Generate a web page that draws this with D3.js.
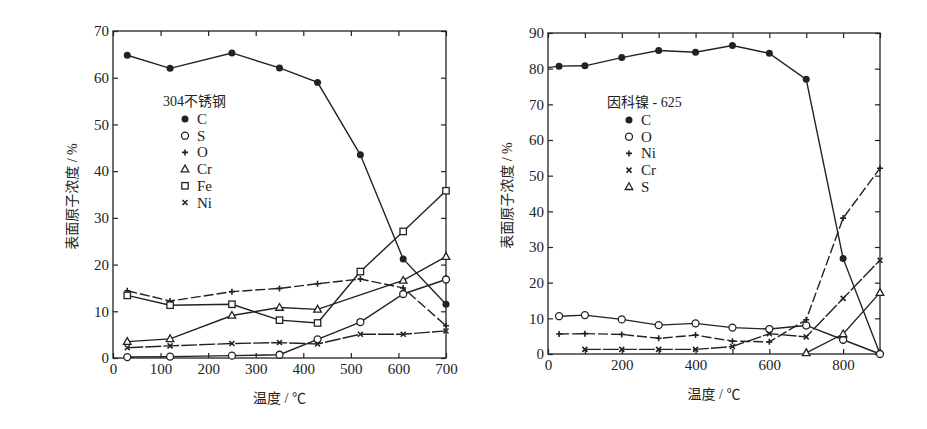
<!DOCTYPE html>
<html><head><meta charset="utf-8">
<script src="https://cdn.jsdelivr.net/npm/d3@7"></script>
<style>
body{margin:0;background:#fff;}
svg{display:block;}
.tk text{font-family:"Liberation Serif","DejaVu Serif",serif;font-size:15px;fill:#222;}
.tk path,.tk line{stroke:#222;stroke-width:1.2;}
.cjk{font-family:"Liberation Serif","Noto Sans CJK SC",sans-serif;fill:#222;}
.ser{font-family:"Liberation Serif",serif;fill:#222;}
</style></head><body>
<svg id="c" width="927" height="429"></svg>
<script>
// ---------- Left chart: 304 stainless steel ----------
const temps304 = [30,120,250,350,430,520,610,700];
const c304  = [64.8,62.0,65.3,62.1,59.0,43.5,21.2,11.5];
const s304  = [0.2,0.3,0.5,0.7,4.0,7.7,13.7,16.8];
const o304  = [14.4,12.2,14.2,14.9,15.9,16.9,15.0,6.9];
const crTemps304 = [30,120,250,350,430,610,700];
const cr304 = [3.5,4.1,9.1,10.8,10.4,16.6,21.7];
const fe304 = [13.4,11.3,11.5,8.1,7.5,18.5,27.1,35.8];
const ni304 = [2.2,2.6,3.1,3.3,3.0,5.1,5.1,5.8];
const xTicks304 = [0,100,200,300,400,500,600,700];
const yTicks304 = [0,10,20,30,40,50,60,70];
const legend304Title = "304不锈钢";
const legend304 = ["C","S","O","Cr","Fe","Ni"];

// ---------- Right chart: Inconel 625 ----------
const cTemps625 = [0,30,100,200,300,400,500,600,700,800,900];
const c625 = [80.3,80.7,80.8,83.1,85.1,84.6,86.5,84.3,77.0,26.8,0];
const temps625 = [30,100,200,300,400,500,600,700,800,900];
const o625  = [10.6,10.9,9.7,8.1,8.6,7.4,7.0,8.0,4.0,0];
const ni625 = [5.6,5.7,5.5,4.4,5.3,3.6,3.4,9.6,38.1,52.1];
const crTemps625 = [100,200,300,400,500,600,700,800,900];
const cr625 = [1.3,1.3,1.3,1.3,2.1,5.7,4.8,15.6,26.3];
const sTemps625 = [700,800,900];
const s625 = [0.3,5.6,17.2];
const xTicks625 = [0,100,200,300,400,500,600,700,800,900];
const xLabels625 = [0,200,400,600,800];
const yTicks625 = [0,10,20,30,40,50,60,70,80,90];
const legend625Title = "因科镍 - 625";
const legend625 = ["C","O","Ni","Cr","S"];

const yTitle = "表面原子浓度 / %";
const xTitle = "温度 / ℃";

const svg = d3.select("#c");
const INK = "#222";

function marker(g, shape, x, y){
  const r = 3.5;
  if(shape==="fcircle") g.append("circle").attr("cx",x).attr("cy",y).attr("r",r).attr("fill",INK);
  else if(shape==="ocircle") g.append("circle").attr("cx",x).attr("cy",y).attr("r",r).attr("fill","#fff").attr("stroke",INK).attr("stroke-width",1.3);
  else if(shape==="square") g.append("rect").attr("x",x-3.2).attr("y",y-3.2).attr("width",6.4).attr("height",6.4).attr("fill","#fff").attr("stroke",INK).attr("stroke-width",1.3);
  else if(shape==="triangle") g.append("path").attr("d",`M${x},${y-4}L${x+3.8},${y+2.7}L${x-3.8},${y+2.7}Z`).attr("fill","#fff").attr("stroke",INK).attr("stroke-width",1.3);
  else if(shape==="plus") g.append("path").attr("d",`M${x-3},${y}H${x+3}M${x},${y-3}V${y+3}`).attr("stroke",INK).attr("stroke-width",1.6);
  else if(shape==="cross") g.append("path").attr("d",`M${x-2.5},${y-2.5}L${x+2.5},${y+2.5}M${x-2.5},${y+2.5}L${x+2.5},${y-2.5}`).attr("stroke",INK).attr("stroke-width",1.5);
}

function chart(o){
  const x = d3.scaleLinear().domain(o.xDomain).range([o.left,o.right]);
  const y = d3.scaleLinear().domain(o.yDomain).range([o.bottom,o.top]);
  const g = svg.append("g");
  g.append("g").attr("class","tk").attr("transform",`translate(0,${o.bottom})`)
    .call(d3.axisBottom(x).tickValues(o.xTicks).tickSize(-5).tickPadding(5)
      .tickFormat(d=> o.xLabels.includes(d)? d : ""));
  g.append("g").attr("class","tk").attr("transform",`translate(0,${o.top})`)
    .call(d3.axisTop(x).tickValues(o.xTicks).tickSize(-5).tickFormat(""));
  g.append("g").attr("class","tk").attr("transform",`translate(${o.left},0)`)
    .call(d3.axisLeft(y).tickValues(o.yTicks).tickSize(-5).tickPadding(4));
  g.append("g").attr("class","tk").attr("transform",`translate(${o.right},0)`)
    .call(d3.axisRight(y).tickValues(o.yTicks).tickSize(-5).tickFormat(""));
  g.selectAll(".tk .domain").remove();
  g.append("rect").attr("x",o.left).attr("y",o.top).attr("width",o.right-o.left).attr("height",o.bottom-o.top)
    .attr("fill","none").attr("stroke",INK).attr("stroke-width",1.3);

  const line = d3.line().x(d=>x(d[0])).y(d=>y(d[1]));
  o.series.forEach(s=>{
    const pts = s.t.map((t,i)=>[t,s.v[i]]);
    g.append("path").attr("d",line(pts)).attr("fill","none").attr("stroke",INK)
      .attr("stroke-width",1.4).attr("stroke-dasharray",s.dash||null);
    const mg = g.append("g");
    pts.filter(p=>p[0]>0).forEach(p=>marker(mg,s.shape,x(p[0]),y(p[1])));
  });

  g.append("text").attr("x",o.legX).attr("y",o.legY).attr("class","cjk").style("font-size","14px")
    .attr("dominant-baseline","central").text(o.legTitle);
  o.legItems.forEach((name,i)=>{
    const s = o.series.find(d=>d.name===name);
    const yy = o.legY + 18 + i*16.7;
    marker(g, s.shape, o.legX+22, yy);
    g.append("text").attr("x",o.legX+34).attr("y",yy).attr("class","ser").style("font-size","15px")
      .attr("dominant-baseline","central").text(name);
  });

  g.append("text").attr("class","cjk").style("font-size","14px").attr("text-anchor","middle")
    .attr("dominant-baseline","central")
    .attr("transform",`translate(${o.left-41},${(o.top+o.bottom)/2 + 2}) rotate(-90)`).text(yTitle);
  g.append("text").attr("class","cjk").style("font-size","14px").attr("text-anchor","middle")
    .attr("dominant-baseline","central")
    .attr("x",(o.left+o.right)/2).attr("y",o.bottom+40).text(xTitle);
}

chart({
  left:113,right:446,top:31,bottom:358,
  xDomain:[0,700], yDomain:[0,70], xTicks:xTicks304, xLabels:xTicks304, yTicks:yTicks304,
  legX:163, legY:101, legTitle:legend304Title, legItems:legend304,
  series:[
    {name:"C",shape:"fcircle",t:temps304,v:c304},
    {name:"S",shape:"ocircle",t:temps304,v:s304},
    {name:"O",shape:"plus",t:temps304,v:o304,dash:"10,3"},
    {name:"Cr",shape:"triangle",t:crTemps304,v:cr304},
    {name:"Fe",shape:"square",t:temps304,v:fe304},
    {name:"Ni",shape:"cross",t:temps304,v:ni304,dash:"16,2"}
  ]
});

chart({
  left:548,right:880,top:33,bottom:354,
  xDomain:[0,900], yDomain:[0,90], xTicks:xTicks625, xLabels:xLabels625, yTicks:yTicks625,
  legX:607, legY:102, legTitle:legend625Title, legItems:legend625,
  series:[
    {name:"C",shape:"fcircle",t:cTemps625,v:c625},
    {name:"O",shape:"ocircle",t:temps625,v:o625},
    {name:"Ni",shape:"plus",t:temps625,v:ni625,dash:"10,3"},
    {name:"Cr",shape:"cross",t:crTemps625,v:cr625,dash:"16,2"},
    {name:"S",shape:"triangle",t:sTemps625,v:s625}
  ]
});
</script>
</body></html>
